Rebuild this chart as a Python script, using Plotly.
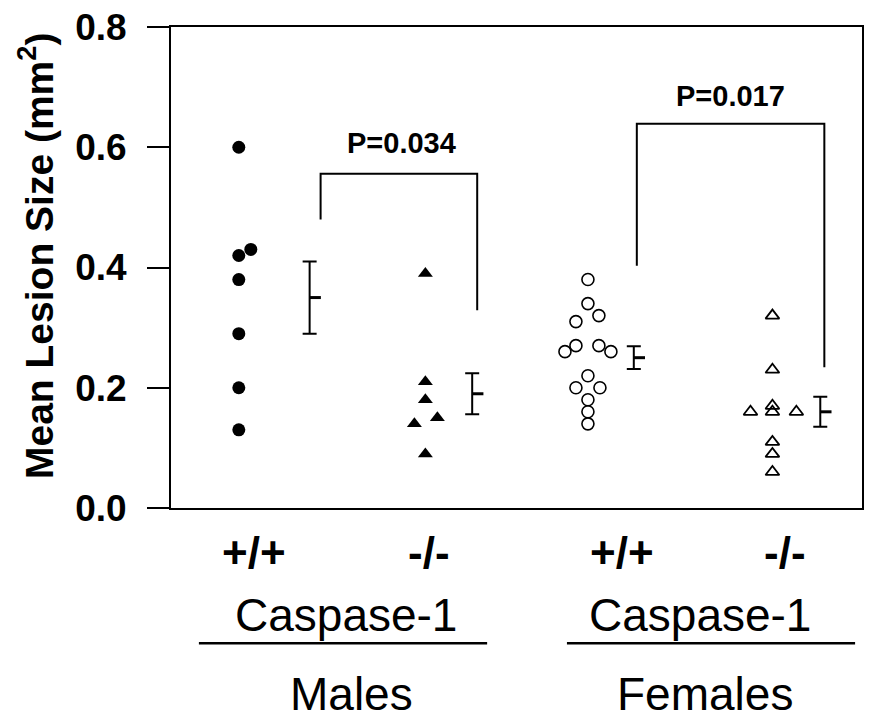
import plotly.graph_objects as go

# ---- data ----
male_wt = [0.60, 0.43, 0.42, 0.38, 0.29, 0.20, 0.13]
male_wt_off = [0, 0.139, 0, 0, 0, 0, 0]
male_ko = [0.39, 0.21, 0.18, 0.15, 0.14, 0.09]
male_ko_off = [0, 0, 0, 0.139, -0.127, 0]
female_wt = [0.38, 0.34, 0.32, 0.31, 0.27, 0.26, 0.27, 0.26, 0.22, 0.20, 0.20, 0.18, 0.16, 0.14]
female_wt_off = [0, 0, 0.127, -0.139, -0.139, -0.266, 0.127, 0.266, 0, -0.139, 0.139, 0, 0, 0]
female_ko = [0.32, 0.23, 0.17, 0.16, 0.16, 0.16, 0.11, 0.09, 0.06]
female_ko_off = [0, 0, 0, 0, -0.254, 0.277, 0, 0, 0]

group_means = [0.35, 0.19, 0.25, 0.16]
group_sems = [0.06, 0.034, 0.019, 0.025]

genotype_labels = ["+/+", "-/-", "+/+", "-/-"]
sex_labels = ["Males", "Females"]
gene_label = "Caspase-1"
p_values = ["P=0.034", "P=0.017"]

# ---- layout positions ----
pts_x = [0.785, 2.945, 4.827, 6.963]
err_x = [1.605, 3.487, 5.358, 7.517]
label_x = [0.958, 2.99, 5.22, 7.11]
gene_x = [2.03, 6.13]
sex_x = [2.09, 6.18]
underline_x = [(0.323, 3.66), (4.584, 7.92)]
# bracket: left x, left bottom y, top y, right x, right bottom y
brackets = [(1.732, 0.48, 0.556, 3.545, 0.329), (5.393, 0.403, 0.639, 7.564, 0.234)]
p_pos = [(2.667, 0.607), (6.478, 0.685)]

FONT = "Arial, Liberation Sans, sans-serif"

fig = go.Figure()

series = [
    (male_wt, male_wt_off, "circle", 13, "black", 0),
    (male_ko, male_ko_off, "triangle-up", 13, "black", 0),
    (female_wt, female_wt_off, "circle-open", 12, "black", 1.6),
    (female_ko, female_ko_off, "triangle-up-open", 12, "black", 1.8),
]
for i, (vals, offs, sym, size, col, lw) in enumerate(series):
    fig.add_trace(go.Scatter(
        x=[pts_x[i] + o for o in offs], y=vals, mode="markers",
        marker=dict(symbol=sym, size=size, color=col, line=dict(color="black", width=lw)),
        showlegend=False, hoverinfo="y"))

# error bars (mean +/- SEM)
fig.add_trace(go.Scatter(
    x=err_x, y=group_means, mode="markers",
    marker=dict(size=1, color="rgba(0,0,0,0)"),
    error_y=dict(type="data", array=group_sems, visible=True, color="black", thickness=2, width=7),
    showlegend=False, hoverinfo="skip"))

# mean ticks pointing right
mx, my = [], []
for x, m in zip(err_x, group_means):
    mx += [x, x + 0.13, None]
    my += [m, m, None]
fig.add_trace(go.Scatter(x=mx, y=my, mode="lines", line=dict(color="black", width=3),
                         showlegend=False, hoverinfo="skip"))

# brackets
bx, by = [], []
for (lx, lb, top, rx, rb) in brackets:
    bx += [lx, lx, rx, rx, None]
    by += [lb, top, top, rb, None]
fig.add_trace(go.Scatter(x=bx, y=by, mode="lines", line=dict(color="black", width=2),
                         showlegend=False, hoverinfo="skip"))

ann = []
for (x, y), t in zip(p_pos, p_values):
    ann.append(dict(x=x, y=y, xref="x", yref="y", text=f"<b>{t}</b>", showarrow=False,
                    font=dict(family=FONT, size=29, color="black")))
for x, t in zip(label_x, genotype_labels):
    ann.append(dict(x=x, y=-0.093, xref="x", yref="paper", text=f"<b>{t}</b>", showarrow=False,
                    yanchor="middle", font=dict(family=FONT, size=44, color="black")))
for x in gene_x:
    ann.append(dict(x=x, y=-0.222, xref="x", yref="paper", text=gene_label, showarrow=False,
                    yanchor="middle", font=dict(family=FONT, size=46, color="black")))
for x, t in zip(sex_x, sex_labels):
    ann.append(dict(x=x, y=-0.387, xref="x", yref="paper", text=t, showarrow=False,
                    yanchor="middle", font=dict(family=FONT, size=46, color="black")))
ann.append(dict(x=-0.196, y=0.523, xref="paper", yref="paper", xanchor="center", yanchor="middle",
                text="<b>Mean Lesion Size (mm<sup>2</sup>)</b>", textangle=-90, showarrow=False,
                font=dict(family=FONT, size=39, color="black")))

shapes = []
for (x0, x1) in underline_x:
    shapes.append(dict(type="line", xref="x", yref="paper", x0=x0, x1=x1, y0=-0.281, y1=-0.281,
                       line=dict(color="black", width=2.5)))

fig.update_layout(
    width=871, height=721,
    margin=dict(l=171, r=7, t=26, b=213),
    paper_bgcolor="white", plot_bgcolor="white",
    annotations=ann, shapes=shapes,
    xaxis=dict(range=[0, 8], showticklabels=False, ticks="", showgrid=False, zeroline=False,
               showline=True, linecolor="black", linewidth=1.5, mirror=True),
    yaxis=dict(range=[0, 0.8], tickvals=[0, 0.2, 0.4, 0.6, 0.8],
               ticktext=["<b>0.0</b>", "<b>0.2</b>", "<b>0.4</b>", "<b>0.6</b>", "<b>0.8</b>"],
               ticks="outside", ticklen=22, tickwidth=1.5, tickcolor="black",
               ticklabelstandoff=13,
               tickfont=dict(family=FONT, size=37, color="black"),
               showgrid=False, zeroline=False, showline=True, linecolor="black", linewidth=1.8,
               mirror=True),
)

fig.write_html("out.html")
